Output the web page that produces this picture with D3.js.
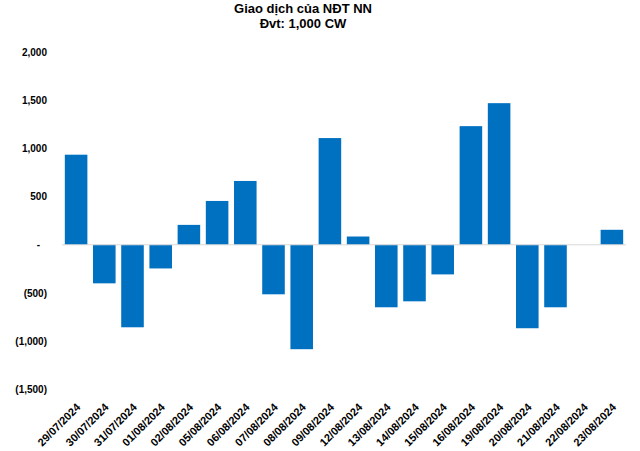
<!DOCTYPE html>
<html>
<head>
<meta charset="utf-8">
<script src="https://cdn.jsdelivr.net/npm/d3@7"></script>
<style>
  body { margin: 0; background: #fff; }
  text { font-family: "Liberation Sans", Arial, sans-serif; font-weight: bold; fill: #000; }
</style>
</head>
<body>
<div id="container"></div>
<script>
// Data (unit: 1,000 CW)
var dates = ["29/07/2024", "30/07/2024", "31/07/2024", "01/08/2024", "02/08/2024",
  "05/08/2024", "06/08/2024", "07/08/2024", "08/08/2024", "09/08/2024",
  "12/08/2024", "13/08/2024", "14/08/2024", "15/08/2024", "16/08/2024",
  "19/08/2024", "20/08/2024", "21/08/2024", "22/08/2024", "23/08/2024"];
var netValues = [937, -401, -858, -246, 207, 456, 664, -515, -1086, 1110,
  86, -650, -588, -308, 1234, 1473, -868, -650, 0, 156];
var yTicks = [-1500, -1000, -500, 0, 500, 1000, 1500, 2000];
var titleLines = ["Giao dịch của NĐT NN", "Đvt: 1,000 CW"];

var W = 640, H = 451;
var svg = d3.select("div#container")
  .append("svg")
  .attr("width", W)
  .attr("height", H);

var x = d3.scaleBand()
  .domain(dates)
  .range([62, 626])
  .paddingInner(0.2)
  .paddingOuter(0.1);

var y = d3.scaleLinear()
  .domain([-1500, 2000])
  .range([389, 52.5]);

// title
svg.append("g")
  .selectAll("text")
  .data(titleLines)
  .enter().append("text")
  .attr("x", 303)
  .attr("y", function(d, i) { return 13 + i * 15; })
  .attr("text-anchor", "middle")
  .style("font-size", "13px")
  .text(function(d) { return d; });

// y axis labels (no line, no ticks)
var fmt = function(v) {
  if (v === 0) return "-";
  var s = d3.format(",")(Math.abs(v));
  return v < 0 ? "(" + s + ")" : s;
};
var yAxis = svg.append("g")
  .attr("transform", "translate(47,0)")
  .call(d3.axisLeft(y).tickValues(yTicks).tickSize(0).tickPadding(0).tickFormat(fmt));
yAxis.select(".domain").remove();
yAxis.selectAll("text")
  .style("font-family", "'Liberation Sans', Arial, sans-serif")
  .style("font-weight", "bold")
  .style("font-size", "10px")
  .attr("fill", "#000");
yAxis.selectAll(".tick").filter(function(d) { return d === 0; })
  .select("text").attr("dx", -7);

// bars
svg.append("g")
  .selectAll("rect")
  .data(netValues)
  .enter().append("rect")
  .attr("x", function(d, i) { return x(dates[i]); })
  .attr("width", x.bandwidth())
  .attr("y", function(d) { return y(Math.max(0, d)); })
  .attr("height", function(d) { return Math.abs(y(d) - y(0)); })
  .attr("fill", "#0070C0");

// zero line
svg.append("line")
  .attr("x1", x.range()[0])
  .attr("x2", x.range()[1])
  .attr("y1", y(0))
  .attr("y2", y(0))
  .attr("stroke", "#d9d9d9")
  .attr("stroke-width", 1);

// category labels at the bottom, rotated
svg.append("g")
  .selectAll("text")
  .data(dates)
  .enter().append("text")
  .attr("transform", function(d) {
    return "translate(" + (x(d) + x.bandwidth() / 2 + 5) + ",408) rotate(-45)";
  })
  .attr("text-anchor", "end")
  .style("font-size", "11px")
  .text(function(d) { return d; });
</script>
</body>
</html>
